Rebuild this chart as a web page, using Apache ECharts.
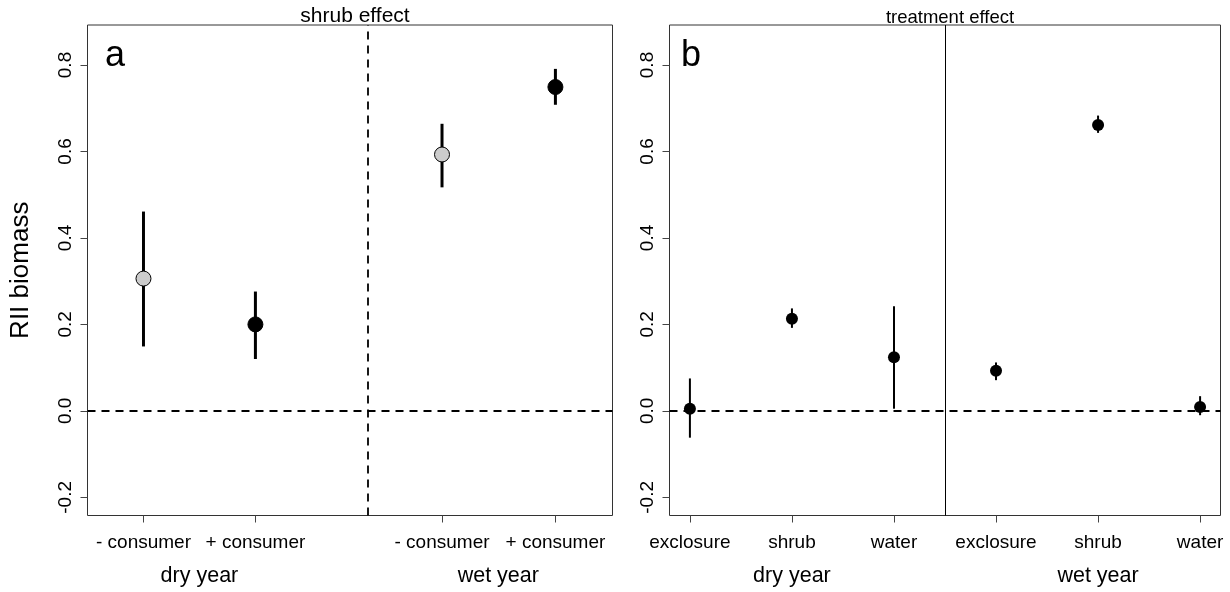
<!DOCTYPE html>
<html>
<head>
<meta charset="utf-8">
<script src="https://cdn.jsdelivr.net/npm/echarts@6/dist/echarts.min.js"></script>
<style>
html,body{margin:0;padding:0;background:#fff;}
#chart{width:1230px;height:592px;}
</style>
</head>
<body>
<div id="chart"></div>
<script>
// ---------- data ----------
// Panel a: shrub effect (RII biomass), by consumer treatment and year
const catsA = ['- consumer', '+ consumer', '- consumer', '+ consumer'];
const posA = [1, 2, 3.667, 4.68];
const consumerA = ['-', '+', '-', '+'];
const meanA = [0.306, 0.200, 0.593, 0.749];
const lowA = [0.149, 0.120, 0.517, 0.708];
const highA = [0.461, 0.276, 0.664, 0.791];
const groupsA = ['dry year', 'wet year'];
const groupPosA = [1.5, 4.17];

// Panel b: treatment effect
const catsB = ['exclosure', 'shrub', 'water', 'exclosure', 'shrub', 'water'];
const posB = [1, 2, 3, 4, 5, 6];
const meanB = [0.005, 0.213, 0.124, 0.093, 0.661, 0.009];
const lowB = [-0.062, 0.192, 0.005, 0.071, 0.643, -0.010];
const highB = [0.075, 0.237, 0.242, 0.112, 0.683, 0.034];
const groupsB = ['dry year', 'wet year'];
const groupPosB = [2, 5];

const yTicks = [-0.2, 0.0, 0.2, 0.4, 0.6, 0.8];

// ---------- chart ----------
const FONT = '"Liberation Sans", Arial, sans-serif';
const chart = echarts.init(document.getElementById('chart'), null, {renderer: 'canvas'});

function errRender(width) {
  return function (params, api) {
    const x = api.value(0), lo = api.value(1), hi = api.value(2);
    const p1 = api.coord([x, lo]), p2 = api.coord([x, hi]);
    return {
      type: 'line',
      shape: {x1: p1[0], y1: p1[1], x2: p2[0], y2: p2[1]},
      style: {stroke: '#000', lineWidth: width}
    };
  };
}

function yAxisOpt(gridIndex, withName) {
  return {
    type: 'value', gridIndex: gridIndex,
    min: -0.242, max: 0.8925,
    splitLine: {show: false},
    axisLine: {show: false, onZero: false},
    axisTick: {show: true, length: 7, lineStyle: {color: '#444', width: 1}, customValues: yTicks},
    axisLabel: {
      show: true, customValues: yTicks, rotate: 90, margin: 12,
      formatter: v => v.toFixed(1),
      fontFamily: FONT, fontSize: 19, color: '#000'
    },
    name: withName ? 'RII biomass' : '',
    nameLocation: 'middle', nameGap: 54, nameRotate: 90,
    nameTextStyle: {fontFamily: FONT, fontSize: 26, color: '#000'}
  };
}

function xAxisOpt(gridIndex, min, max, pos, cats) {
  return {
    type: 'value', gridIndex: gridIndex, min: min, max: max, position: 'bottom',
    splitLine: {show: false},
    axisLine: {show: false, onZero: false},
    axisTick: {show: true, length: 7, lineStyle: {color: '#444', width: 1}, customValues: pos},
    axisLabel: {
      show: true, customValues: pos, margin: 18,
      formatter: v => { const i = pos.findIndex(p => Math.abs(p - v) < 1e-6); return i >= 0 ? cats[i] : ''; },
      fontFamily: FONT, fontSize: 19, color: '#000'
    }
  };
}

function groupAxisOpt(gridIndex, min, max, pos, names) {
  return {
    type: 'value', gridIndex: gridIndex, min: min, max: max, position: 'bottom',
    splitLine: {show: false}, axisLine: {show: false, onZero: false}, axisTick: {show: false},
    axisLabel: {
      show: true, customValues: pos, margin: 50,
      formatter: v => { const i = pos.findIndex(p => Math.abs(p - v) < 1e-6); return i >= 0 ? names[i] : ''; },
      fontFamily: FONT, fontSize: 21.5, color: '#000'
    }
  };
}

const option = {
  animation: false,
  backgroundColor: '#fff',
  title: [
    {text: 'shrub effect', left: 350, top: 1, textAlign: 'center',
     textStyle: {fontFamily: FONT, fontSize: 21, fontWeight: 'normal', color: '#000'}},
    {text: 'treatment effect', left: 945, top: 3, textAlign: 'center',
     textStyle: {fontFamily: FONT, fontSize: 18.5, fontWeight: 'normal', color: '#000'}},
    {text: 'a', left: 100, top: 33,
     textStyle: {fontFamily: FONT, fontSize: 36, fontWeight: 'normal', color: '#000'}},
    {text: 'b', left: 676, top: 33,
     textStyle: {fontFamily: FONT, fontSize: 36, fontWeight: 'normal', color: '#000'}}
  ],
  grid: [
    {left: 87.5, right: 617.5, top: 25, bottom: 76.5, show: true, borderColor: '#333', borderWidth: 1, backgroundColor: 'transparent'},
    {left: 669.5, right: 9.5, top: 25, bottom: 76.5, show: true, borderColor: '#333', borderWidth: 1, backgroundColor: 'transparent'}
  ],
  xAxis: [
    xAxisOpt(0, 0.5, 5.19, posA, catsA),
    xAxisOpt(1, 0.8, 6.2, posB, catsB),
    groupAxisOpt(0, 0.5, 5.19, groupPosA, groupsA),
    groupAxisOpt(1, 0.8, 6.2, groupPosB, groupsB)
  ],
  yAxis: [yAxisOpt(0, true), yAxisOpt(1, false)],
  series: [
    // Panel a error bars
    {
      type: 'custom', xAxisIndex: 0, yAxisIndex: 0, z: 2,
      renderItem: errRender(3),
      data: posA.map((p, i) => [p, lowA[i], highA[i]]),
      markLine: {
        silent: true, symbol: 'none', label: {show: false},
        lineStyle: {type: [8, 6], color: '#000', width: 1.8},
        data: [{yAxis: 0}, {xAxis: 3}]
      }
    },
    // Panel a points
    {
      type: 'scatter', xAxisIndex: 0, yAxisIndex: 0, z: 3,
      symbol: 'circle', symbolSize: 15,
      data: posA.map((p, i) => ({
        value: [p, meanA[i]],
        itemStyle: consumerA[i] === '-' ? {color: '#cccccc', borderColor: '#000', borderWidth: 1, opacity: 1}
                                        : {color: '#000', borderColor: '#000', borderWidth: 1, opacity: 1}
      }))
    },
    // Panel b error bars
    {
      type: 'custom', xAxisIndex: 1, yAxisIndex: 1, z: 2,
      renderItem: errRender(2),
      data: posB.map((p, i) => [p, lowB[i], highB[i]]),
      markLine: {
        silent: true, symbol: 'none', label: {show: false},
        data: [
          {yAxis: 0, lineStyle: {type: [8, 6], color: '#000', width: 1.8}},
          {xAxis: 3.5, lineStyle: {type: 'solid', color: '#000', width: 1}}
        ]
      }
    },
    // Panel b points
    {
      type: 'scatter', xAxisIndex: 1, yAxisIndex: 1, z: 3,
      symbol: 'circle', symbolSize: 12,
      itemStyle: {color: '#000', opacity: 1},
      data: posB.map((p, i) => [p, meanB[i]])
    }
  ]
};
chart.setOption(option);
</script>
</body>
</html>
